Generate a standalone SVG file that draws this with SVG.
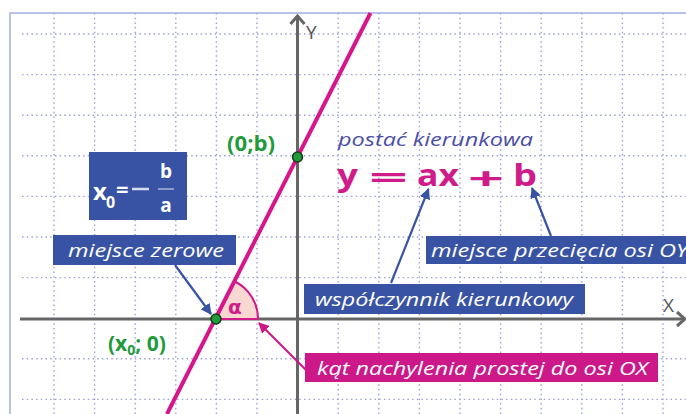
<svg xmlns="http://www.w3.org/2000/svg" width="686" height="414" viewBox="0 0 686 414">
<defs>
<style>
.grid{stroke:#9ca0e0;stroke-width:1.4;stroke-dasharray:1.5 3.2;fill:none}
.axis{stroke:#666;stroke-width:3;fill:none}
.lbl{font-family:"Open Sans","Liberation Sans",sans-serif;font-style:italic;fill:#fff;font-size:18px}
.bbox{fill:#3953a4}
.mbox{fill:#cc1889}
.pt{fill:#1f9b3c;stroke:#1a3a1a;stroke-width:1.5}
.grn{font-family:"Open Sans","Liberation Sans",sans-serif;font-weight:bold;fill:#1f9b3c;font-size:21px}
.ax{font-family:"Open Sans","Liberation Sans",sans-serif;fill:#555;font-size:19px}
.eq{font-family:"Open Sans","Liberation Sans",sans-serif;font-weight:bold;font-size:31px;fill:#d01c8b}
</style>
<marker id="ab" viewBox="0 0 10 10" refX="9" refY="5" markerWidth="5" markerHeight="5" orient="auto" markerUnits="strokeWidth"><path d="M0,0 L10,5 L0,10 z" fill="#3953a4"/></marker>
<marker id="am" viewBox="0 0 10 10" refX="9" refY="5" markerWidth="5" markerHeight="5" orient="auto" markerUnits="strokeWidth"><path d="M0,0 L10,5 L0,10 z" fill="#cc1889"/></marker>
</defs>
<rect width="686" height="414" fill="#fff"/>
<g id="grid">
<path class="grid" d="M54,13V414 M94.6,13V414 M135.2,13V414 M175.8,13V414 M216.4,13V414 M257,13V414 M338.2,13V414 M378.8,13V414 M419.4,13V414 M460,13V414 M500.6,13V414 M541.2,13V414 M581.8,13V414 M622.4,13V414 M663,13V414"/>
<path class="grid" d="M22,34H686 M22,74.6H686 M22,115.2H686 M22,155.8H686 M22,196.4H686 M22,237H686 M22,277.6H686 M22,358.8H686 M22,399.4H686"/>
<path d="M10,414V13H686" fill="none" stroke="#a4acdf" stroke-width="1.5"/>
</g>
<g id="axes">
<path class="axis" d="M20,319H684"/>
<path class="axis" d="M677,312L685,319L677,326"/>
<path class="axis" d="M297.5,414V16"/>
<path class="axis" d="M290.5,24L297.5,16L304.5,24"/>
<text class="ax" x="306" y="39">Y</text>
<text class="ax" x="663" y="312">X</text>
</g>
<g id="angle">
<path d="M216,319 L258,319 A42,42 0 0 0 235,281.5 Z" fill="#fad8d2" stroke="#d01c8b" stroke-width="2"/>
<text x="228" y="314" font-family="'DejaVu Sans','Liberation Sans',sans-serif" font-weight="bold" font-size="20" fill="#d01c8b">α</text>
</g>
<g id="line">
<path d="M370.5,13 L167,414" stroke="#d8168c" stroke-width="4" fill="none"/>
</g>
<g id="connectors">
<path d="M175,265 L211,314" stroke="#3953a4" stroke-width="2.2" fill="none" marker-end="url(#ab)"/>
<path d="M391,283 L428.5,189" stroke="#3953a4" stroke-width="2.2" fill="none" marker-end="url(#ab)"/>
<path d="M551,236 L532,188" stroke="#3953a4" stroke-width="2.2" fill="none" marker-end="url(#ab)"/>
<path d="M308,372 L259,323" stroke="#cc1889" stroke-width="2.2" fill="none" marker-end="url(#am)"/>
</g>
<g id="point-zero">
<circle class="pt" cx="216" cy="319" r="5"/>
<text class="grn" x="108" y="351"><tspan>(x</tspan><tspan font-size="14" dy="4">0</tspan><tspan dy="-4">; 0)</tspan></text>
</g>
<g id="point-b">
<circle class="pt" cx="297.5" cy="157" r="5"/>
<text class="grn" x="227" y="151" textLength="48" lengthAdjust="spacingAndGlyphs">(0;b)</text>
</g>
<g id="formula-x0">
<rect class="bbox" x="89" y="152" width="98" height="68"/>
<text x="93" y="200" font-family="'Open Sans','Liberation Sans',sans-serif" font-weight="bold" font-size="24" fill="#fff">x</text>
<text x="106" y="208" font-family="'Open Sans','Liberation Sans',sans-serif" font-weight="bold" font-size="16" fill="#fff">0</text>
<text x="116" y="197" font-family="'Open Sans','Liberation Sans',sans-serif" font-weight="bold" font-size="22" fill="#fff">=</text>
<path d="M132,189H149" stroke="#d8ddf0" stroke-width="2.5"/>
<path d="M158,189H174" stroke="#a9b4dc" stroke-width="1.5"/>
<text x="166" y="178" text-anchor="middle" font-family="'Open Sans','Liberation Sans',sans-serif" font-weight="bold" font-size="19" fill="#fff">b</text>
<text x="166" y="212" text-anchor="middle" font-family="'Open Sans','Liberation Sans',sans-serif" font-weight="bold" font-size="19" fill="#fff">a</text>
</g>
<g id="formula-main">
<text x="338" y="146" font-family="'Open Sans','Liberation Sans',sans-serif" font-style="italic" font-size="19" fill="#4b4ea6" textLength="195" lengthAdjust="spacingAndGlyphs">postać kierunkowa</text>
<text class="eq" x="337" y="186" textLength="21" lengthAdjust="spacingAndGlyphs">y</text>
<text class="eq" x="369" y="188" font-size="40" textLength="39" lengthAdjust="spacingAndGlyphs">=</text>
<text class="eq" x="417" y="186" textLength="42" lengthAdjust="spacingAndGlyphs">ax</text>
<text class="eq" x="468" y="189" font-size="48" textLength="36" lengthAdjust="spacingAndGlyphs">+</text>
<text class="eq" x="513" y="186" textLength="24" lengthAdjust="spacingAndGlyphs">b</text>
</g>
<g id="label-zero">
<rect class="bbox" x="53" y="235" width="183" height="30"/>
<text class="lbl" x="68" y="257" textLength="156" lengthAdjust="spacingAndGlyphs">miejsce zerowe</text>
</g>
<g id="label-slope">
<rect class="bbox" x="304" y="284" width="281" height="30"/>
<text class="lbl" x="315" y="306" textLength="258" lengthAdjust="spacingAndGlyphs">współczynnik kierunkowy</text>
</g>
<g id="label-intercept">
<rect class="bbox" x="426" y="236" width="262" height="28"/>
<text class="lbl" x="431" y="257" textLength="257" lengthAdjust="spacingAndGlyphs">miejsce przecięcia osi OY</text>
</g>
<g id="label-angle">
<rect class="mbox" x="305" y="353" width="353" height="29"/>
<text class="lbl" x="317" y="375" textLength="331" lengthAdjust="spacingAndGlyphs">kąt nachylenia prostej do osi OX</text>
</g>
</svg>
